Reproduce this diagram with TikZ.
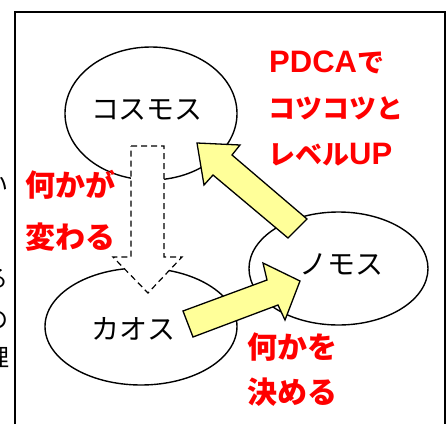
\documentclass[tikz,border=0pt]{standalone}
\usepackage{fontspec}
\setmainfont{Noto Sans CJK JP}
\newfontfamily\latinbold{Liberation Sans}
\usetikzlibrary{shapes.geometric}
\definecolor{argyellow}{RGB}{255,255,153}
\definecolor{argred}{RGB}{255,0,0}
\newcommand{\lat}[1]{{\fontsize{31}{31}\selectfont\latinbold\bfseries #1}}
\tikzset{
  bubble/.style={draw=black, line width=1.4pt, ellipse, inner sep=0pt},
  blacklabel/.style={inner sep=0pt, font=\fontsize{28}{28}\selectfont},
  redlabel/.style={inner sep=0pt, anchor=west, text=argred, font=\fontsize{30}{30}\selectfont\bfseries},
  redsmall/.style={redlabel, font=\fontsize{27}{27}\selectfont\bfseries},
  blockarrow/.style={draw=black, line width=1.3pt, fill=argyellow, line join=miter},
  dasharrow/.style={draw=black, line width=1.2pt, fill=white, dash pattern=on 6pt off 4pt},
  frameline/.style={draw=black, line width=1.4pt},
  fragment/.style={inner sep=0pt, font=\fontsize{24}{24}\selectfont}
}
\begin{document}
\begin{tikzpicture}[x=1pt,y=-1pt]
\useasboundingbox (0,0) rectangle (448,424);
\begin{scope}
\clip (0,0) rectangle (12,424);
\node[fragment] (f1) at (-4,185) {い};
\node[fragment] (f2) at (-4,279) {る};
\node[fragment] (f3) at (-4,320) {の};
\node[fragment] (f4) at (-2,358) {理};
\end{scope}
\draw[frameline] (15,424) -- (15,12) -- (445,12) -- (445,424);
% ellipses
\node[bubble, minimum width=172pt, minimum height=133pt] (cosmos) at (151,113.5) {};
\node[bubble, minimum width=192pt, minimum height=117pt] (chaos) at (141,326.5) {};
\node[bubble, minimum width=179pt, minimum height=113pt] (nomos) at (338.5,268.5) {};
% dashed arrow cosmos -> chaos
\draw[dasharrow] (131,146) -- (164,146) -- (164,257) -- (182,257) -- (148,293) -- (113,257) -- (131,257) -- cycle;
% chaos -> nomos
\draw[blockarrow] (183,311) -- (267,280) -- (263,263) -- (300,281) -- (285,320) -- (278,305) -- (193,337) -- cycle;
% nomos -> cosmos
\draw[blockarrow] (197,143) -- (240,145) -- (232,155) -- (307,219) -- (288,238) -- (213,175) -- (204,185) -- cycle;
% labels
\node[blacklabel] (tcosmos) at (147,110) {コスモス};
\node[blacklabel] (tchaos) at (134,329) {カオス};
\node[blacklabel] (tnomos) at (341,264) {ノモス};
\node[redsmall] (r1) at (269,62) {\lat{PDCA}で};
\node[redsmall] (r2) at (268,108) {コツコツと};
\node[redsmall] (r3) at (268,155) {レベル\lat{UP}};
\node[redlabel] (r4) at (25,185) {何かが};
\node[redlabel] (r5) at (25,237) {変わる};
\node[redlabel] (r6) at (247,347) {何かを};
\node[redlabel] (r7) at (247,392) {決める};
\end{tikzpicture}
\end{document}
